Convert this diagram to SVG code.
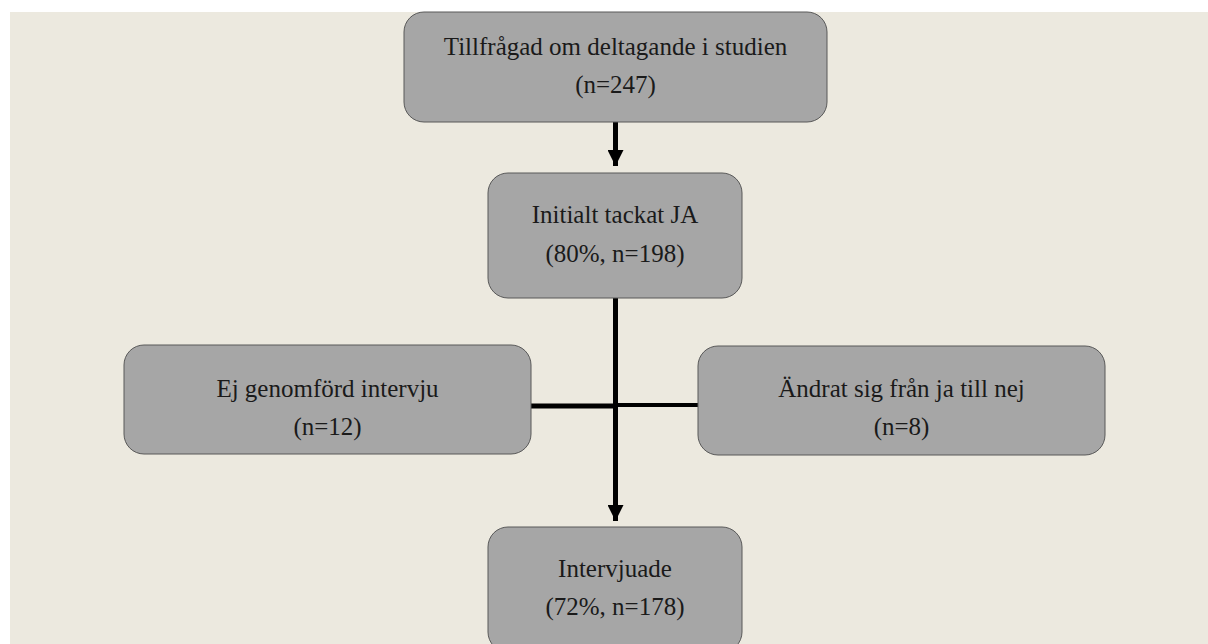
<svg xmlns="http://www.w3.org/2000/svg" width="1208" height="644" viewBox="0 0 1208 644">
  <defs>
    <style>
      .box { fill: #a6a6a6; stroke: #595959; stroke-width: 1; }
      .t { font-family: "Liberation Serif", "Times New Roman", serif; font-size: 25px; fill: #1a1a1a; text-anchor: middle; }
      .ln { stroke: #000; stroke-width: 5; fill: none; }
    </style>
    <marker id="arr" markerUnits="userSpaceOnUse" markerWidth="16" markerHeight="16" viewBox="0 0 16 16" refX="16" refY="8" orient="auto">
      <path d="M0,0 L16,8 L0,16 Z" fill="#000"/>
    </marker>
  </defs>
  <rect x="0" y="0" width="1208" height="644" fill="#ffffff"/>
  <rect x="10" y="12" width="1198" height="632" fill="#ece9df"/>

  <g id="connectors">
    <line class="ln" x1="615.5" y1="122" x2="615.5" y2="166" marker-end="url(#arr)"/>
    <line class="ln" x1="615.5" y1="298" x2="615.5" y2="521" marker-end="url(#arr)"/>
    <line class="ln" x1="531" y1="406" x2="615.5" y2="406"/>
    <line class="ln" x1="615.5" y1="405" x2="698" y2="405" style="stroke-width:4"/>
  </g>

  <g id="n1">
    <rect class="box" x="404" y="12" width="423" height="110" rx="20" ry="20"/>
    <text class="t" x="615.5" y="55">Tillfrågad om deltagande i studien</text>
    <text class="t" x="615.5" y="93">(n=247)</text>
  </g>
  <g id="n2">
    <rect class="box" x="488" y="173" width="254" height="125" rx="20" ry="20"/>
    <text class="t" x="615" y="223">Initialt tackat JA</text>
    <text class="t" x="615" y="262">(80%, n=198)</text>
  </g>
  <g id="n3">
    <rect class="box" x="124" y="345" width="407" height="109" rx="20" ry="20"/>
    <text class="t" x="327.5" y="397">Ej genomförd intervju</text>
    <text class="t" x="327.5" y="435">(n=12)</text>
  </g>
  <g id="n4">
    <rect class="box" x="698" y="346" width="407" height="109" rx="20" ry="20"/>
    <text class="t" x="901.5" y="397">Ändrat sig från ja till nej</text>
    <text class="t" x="901.5" y="435">(n=8)</text>
  </g>
  <g id="n5">
    <rect class="box" x="488" y="527" width="254" height="125" rx="20" ry="20"/>
    <text class="t" x="615" y="577">Intervjuade</text>
    <text class="t" x="615" y="615">(72%, n=178)</text>
  </g>
</svg>
